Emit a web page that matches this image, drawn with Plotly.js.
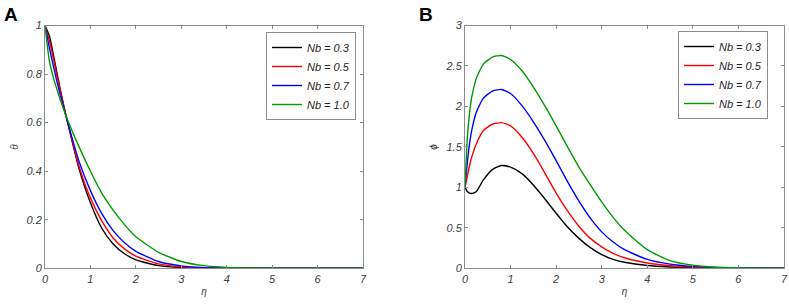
<!DOCTYPE html>
<html>
<head>
<meta charset="utf-8">
<script src="https://cdn.plot.ly/plotly-3.0.1.min.js"></script>
<style>html,body{margin:0;padding:0;background:#fff;}#chart{width:789px;height:304px;}</style>
</head>
<body>
<div id="chart"></div>
<script>
// ---- Data ----
const seriesNames = ["Nb = 0.3", "Nb = 0.5", "Nb = 0.7", "Nb = 1.0"];
const seriesColors = ["#000000", "#ff0000", "#0000ff", "#009a00"];

// Panel A: theta(eta)
const etaA = [0, 0.1, 0.2, 0.3, 0.4, 0.5, 0.75, 1, 1.25, 1.5, 1.75, 2, 2.5, 3, 3.5, 4, 5, 6, 7];
const thetaNb03 = [1, 0.955, 0.865, 0.77, 0.68, 0.60, 0.41, 0.27, 0.165, 0.10, 0.06, 0.035, 0.011, 0.003, 0.001, 0.0003, 0, 0, 0];
const thetaNb05 = [1, 0.935, 0.85, 0.76, 0.68, 0.60, 0.42, 0.29, 0.195, 0.125, 0.08, 0.05, 0.018, 0.006, 0.002, 0.0005, 0, 0, 0];
const thetaNb07 = [1, 0.905, 0.82, 0.74, 0.67, 0.60, 0.44, 0.32, 0.225, 0.155, 0.105, 0.07, 0.028, 0.01, 0.003, 0.001, 0, 0, 0];
const thetaNb10 = [1, 0.85, 0.775, 0.715, 0.66, 0.61, 0.50, 0.40, 0.31, 0.24, 0.18, 0.13, 0.066, 0.028, 0.011, 0.004, 0.0005, 0, 0];

// Panel B: phi(eta)
const etaB = [0, 0.05, 0.1, 0.15, 0.25, 0.4, 0.6, 0.8, 1.0, 1.25, 1.5, 1.75, 2.0, 2.25, 2.5, 2.75, 3.0, 3.25, 3.5, 4.0, 4.5, 5.0, 5.5, 6.0, 7.0];
const phiNb03 = [1, 0.95, 0.93, 0.925, 0.95, 1.09, 1.22, 1.27, 1.25, 1.17, 1.03, 0.86, 0.68, 0.51, 0.37, 0.255, 0.17, 0.11, 0.075, 0.035, 0.017, 0.008, 0.003, 0.001, 0];
const phiNb05 = [1, 1.13, 1.27, 1.38, 1.54, 1.70, 1.78, 1.80, 1.76, 1.62, 1.42, 1.18, 0.93, 0.71, 0.52, 0.37, 0.265, 0.185, 0.13, 0.065, 0.032, 0.015, 0.006, 0.002, 0];
const phiNb07 = [1, 1.30, 1.54, 1.71, 1.93, 2.10, 2.19, 2.21, 2.16, 2.01, 1.81, 1.58, 1.33, 1.07, 0.83, 0.62, 0.45, 0.325, 0.23, 0.11, 0.052, 0.024, 0.01, 0.004, 0];
const phiNb10 = [1, 1.60, 1.92, 2.12, 2.35, 2.52, 2.61, 2.63, 2.58, 2.44, 2.24, 2.01, 1.76, 1.50, 1.25, 1.03, 0.82, 0.63, 0.47, 0.23, 0.095, 0.037, 0.013, 0.005, 0];

const xTickVals = [0, 1, 2, 3, 4, 5, 6, 7];
const yTickValsA = [0, 0.2, 0.4, 0.6, 0.8, 1];
const yTickValsB = [0, 0.5, 1, 1.5, 2, 2.5, 3];

// ---- Build traces ----
const thetaSeries = [thetaNb03, thetaNb05, thetaNb07, thetaNb10];
const phiSeries = [phiNb03, phiNb05, phiNb07, phiNb10];
const traces = [];
thetaSeries.forEach((ys, i) => traces.push({
  x: etaA, y: ys, type: 'scatter', mode: 'lines', name: seriesNames[i],
  line: {color: seriesColors[i], width: 1.4, shape: 'spline', smoothing: 0.55},
  xaxis: 'x', yaxis: 'y', legend: 'legend'
}));
phiSeries.forEach((ys, i) => traces.push({
  x: etaB, y: ys, type: 'scatter', mode: 'lines', name: seriesNames[i],
  line: {color: seriesColors[i], width: 1.4, shape: 'spline', smoothing: 0.55},
  xaxis: 'x2', yaxis: 'y2', legend: 'legend2'
}));

const tickFont = {family: 'Arial, Liberation Sans, sans-serif', size: 11, color: '#404040', style: 'italic'};
const titleFont = {family: 'Arial, Liberation Sans, sans-serif', size: 10, color: '#404040', style: 'italic'};
function axisBase(extra) {
  return Object.assign({
    showline: true, mirror: 'ticks', linecolor: '#8c8c8c', linewidth: 1,
    ticks: 'inside', ticklen: 3, tickwidth: 1, tickcolor: '#8c8c8c',
    showgrid: false, zeroline: false, tickfont: tickFont, fixedrange: true
  }, extra);
}
const legendBase = {
  bgcolor: '#ffffff', bordercolor: '#8c8c8c', borderwidth: 1,
  font: {family: 'Arial, Liberation Sans, sans-serif', size: 11, color: '#262626', style: 'italic'},
  xanchor: 'right', yanchor: 'top', tracegroupgap: 0
};

const layout = {
  width: 789, height: 304,
  margin: {l: 0, r: 0, t: 0, b: 0},
  paper_bgcolor: '#ffffff', plot_bgcolor: '#ffffff',
  showlegend: true,
  xaxis: axisBase({domain: [45/789, 363/789], range: [0, 7], tickvals: xTickVals, anchor: 'y',
    title: {text: 'η', font: titleFont, standoff: 4}}),
  yaxis: axisBase({domain: [0.1174, 0.9161], range: [0, 1], tickvals: yTickValsA, anchor: 'x',
    title: {text: 'θ', font: titleFont, standoff: 6}}),
  xaxis2: axisBase({domain: [465/789, 784/789], range: [0, 7], tickvals: xTickVals, anchor: 'y2',
    title: {text: 'η', font: titleFont, standoff: 4}}),
  yaxis2: axisBase({domain: [0.1174, 0.9161], range: [0, 3], tickvals: yTickValsB, anchor: 'x2',
    title: {text: 'ϕ', font: titleFont, standoff: 6}}),
  legend: Object.assign({}, legendBase, {x: 356/789, y: 1 - 32/304}),
  legend2: Object.assign({}, legendBase, {x: 768/789, y: 1 - 31/304}),
  annotations: [
    {text: '<b>A</b>', xref: 'paper', yref: 'paper', x: 2/789, y: 1 - 2/304, xanchor: 'left', yanchor: 'top',
     showarrow: false, font: {family: 'Arial, Liberation Sans, sans-serif', size: 19, color: '#000'}},
    {text: '<b>B</b>', xref: 'paper', yref: 'paper', x: 417/789, y: 1 - 2/304, xanchor: 'left', yanchor: 'top',
     showarrow: false, font: {family: 'Arial, Liberation Sans, sans-serif', size: 19, color: '#000'}}
  ]
};

Plotly.newPlot('chart', traces, layout, {staticPlot: true, displayModeBar: false});
</script>
</body>
</html>
